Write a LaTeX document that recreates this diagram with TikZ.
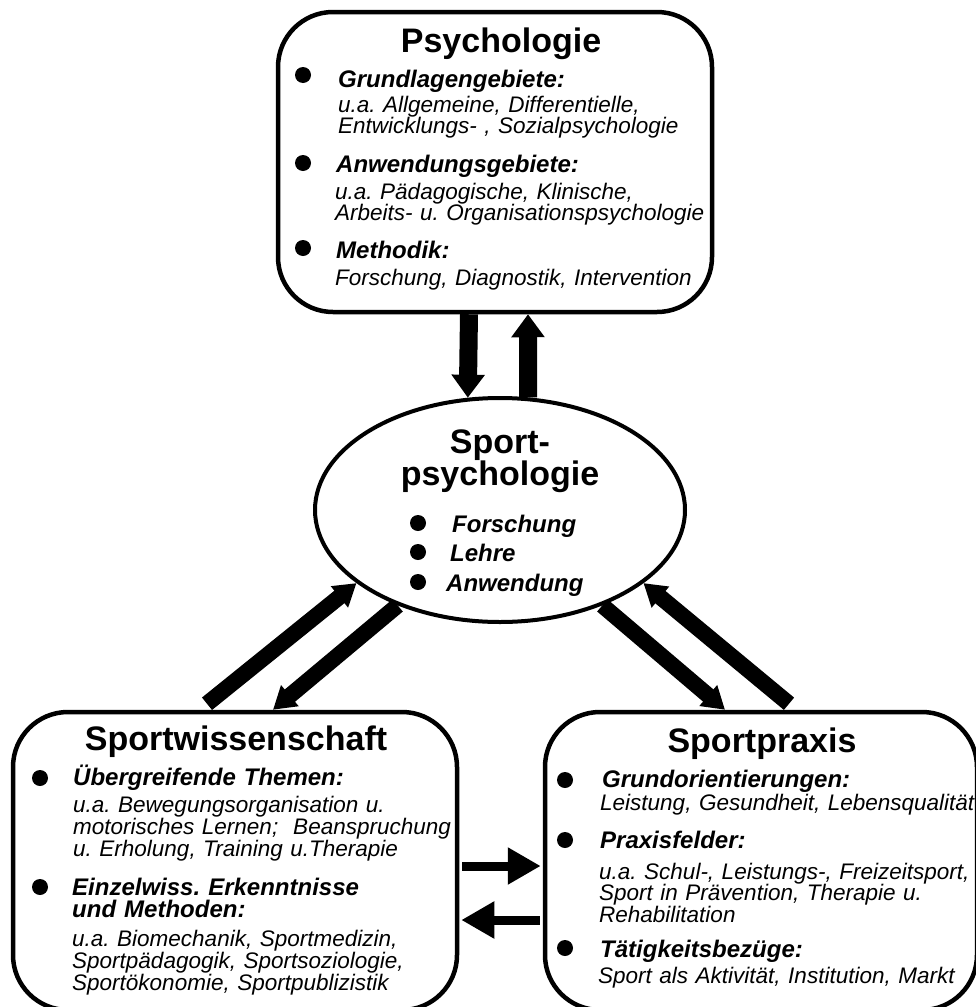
\documentclass[tikz,border=0pt]{standalone}
\usepackage{fontspec}
\setmainfont{Liberation Sans}
\usetikzlibrary{arrows.meta}
\usetikzlibrary{shapes.geometric}
\lineskiplimit=-100pt
\frenchspacing
\tikzstyle{rbox}=[draw, line width=4.5pt, rounded corners=55pt, fill=white, inner sep=0pt]
\tikzstyle{heading}=[font=\fontsize{34}{30}\selectfont\bfseries, inner sep=0pt, anchor=base]
\tikzstyle{topic}=[font=\fontsize{24}{22}\selectfont\bfseries\itshape, inner sep=0pt, anchor=base west, text width=400pt, align=left]
\tikzstyle{detail}=[font=\fontsize{22.5}{20.5}\selectfont\itshape, inner sep=0pt, anchor=base west, text width=420pt, align=left]
\tikzstyle{detailw}=[detail, font=\fontsize{22.5}{22}\selectfont\itshape]
\tikzstyle{dot}=[circle, fill=black, inner sep=0pt, minimum size=16pt]
\tikzset{bigarrow/.style={line width=18pt, -{Triangle[width=32pt,length=23pt]}},
  slantarrow/.style={line width=16pt, -{Triangle[width=26pt,length=22pt]}},
  flatarrow/.style={line width=9pt, shorten <=3pt, shorten >=2pt, -{Triangle[width=35pt,length=33pt]}}}

\begin{document}
\begin{tikzpicture}[x=1pt,y=-1pt]
\useasboundingbox (0,0) rectangle (975,1007);
\fill[white] (0,0) rectangle (975,1007);

\node[rbox, minimum width=434pt, minimum height=300pt] (psy) at (495,162) {};
\node[rbox, minimum width=444pt, minimum height=298pt] (wiss) at (235,861) {};
\node[rbox, minimum width=432pt, minimum height=298pt] (praxis) at (761,861) {};
\node[ellipse, draw, line width=4pt, fill=white, inner sep=0pt, minimum width=370pt, minimum height=224pt] (sportpsy) at (500,510) {};

\node[heading] (psyT) at (501,52) {Psychologie};
\node[dot] (psyD1) at (303,75) {};
\node[topic] (psyA) at (338,87) {Grundlagengebiete:};
\node[detail] (psyAt) at (338,112) {u.a. Allgemeine, Differentielle,\\Entwicklungs- , Sozialpsychologie};
\node[dot] (psyD2) at (303,163) {};
\node[topic] (psyB) at (336,172) {Anwendungsgebiete:};
\node[detail] (psyBt) at (335,199) {u.a. Pädagogische, Klinische,\\Arbeits- u. Organisationspsychologie};
\node[dot] (psyD3) at (303,248) {};
\node[topic] (psyC) at (336,258) {Methodik:};
\node[detail] (psyCt) at (335,285) {Forschung, Diagnostik, Intervention};

\node[heading, text width=300pt, align=center] (sportpsyT) at (500,453) {Sport-\\psychologie};
\node[dot] (spD1) at (418,523) {};
\node[topic] (spA) at (452,532) {Forschung};
\node[dot] (spD2) at (418,552) {};
\node[topic] (spB) at (450,561) {Lehre};
\node[dot] (spD3) at (418,582) {};
\node[topic] (spC) at (446,591) {Anwendung};

\node[heading] (wissT) at (236,750) {Sportwissenschaft};
\node[dot] (wissD1) at (40,778) {};
\node[topic] (wissA) at (73,785) {Übergreifende Themen:};
\node[detailw] (wissAt) at (73,812) {u.a. Bewegungsorganisation u.\\motorisches Lernen;\ \ Beanspruchung\\u. Erholung, Training u.Therapie};
\node[dot] (wissD2) at (40,887) {};
\node[topic] (wissB) at (72,895) {Einzelwiss. Erkenntnisse\\und Methoden:};
\node[detailw] (wissBt) at (72,946) {u.a. Biomechanik, Sportmedizin,\\Sportpädagogik, Sportsoziologie,\\Sportökonomie, Sportpublizistik};

\node[heading] (praxisT) at (762,752) {Sportpraxis};
\node[dot] (praxisD1) at (565,780) {};
\node[topic] (praxisA) at (602,787) {Grundorientierungen:};
\node[detail] (praxisAt) at (600,810) {Leistung, Gesundheit, Lebensqualität};
\node[dot] (praxisD2) at (565,840) {};
\node[topic] (praxisB) at (600,848) {Praxisfelder:};
\node[detail] (praxisBt) at (599,879) {u.a. Schul-, Leistungs-, Freizeitsport,\\Sport in Prävention, Therapie u.\\Rehabilitation};
\node[dot] (praxisD3) at (565,948) {};
\node[topic] (praxisC) at (600,957) {Tätigkeitsbezüge:};
\node[detail] (praxisCt) at (598,983) {Sport als Aktivität, Institution, Markt};

\draw[bigarrow] ([xshift=-26pt]psy.south) -- (sportpsy.106);
\draw[bigarrow] (sportpsy.76) -- ([xshift=33pt]psy.south);
\draw[slantarrow] ([shift={(-28,-6)}]wiss.north) -- (sportpsy.207);
\draw[slantarrow] (sportpsy.223) -- ([xshift=38pt]wiss.north);
\draw[slantarrow] (sportpsy.-43) -- ([xshift=-36pt]praxis.north);
\draw[slantarrow] ([shift={(28,-6)}]praxis.north) -- (sportpsy.-27);
\draw[flatarrow] ([yshift=-5pt]wiss.east) -- ([yshift=-5pt]praxis.west);
\draw[flatarrow] ([yshift=-59pt]praxis.west) -- ([yshift=-59pt]wiss.east);
\end{tikzpicture}
\end{document}
